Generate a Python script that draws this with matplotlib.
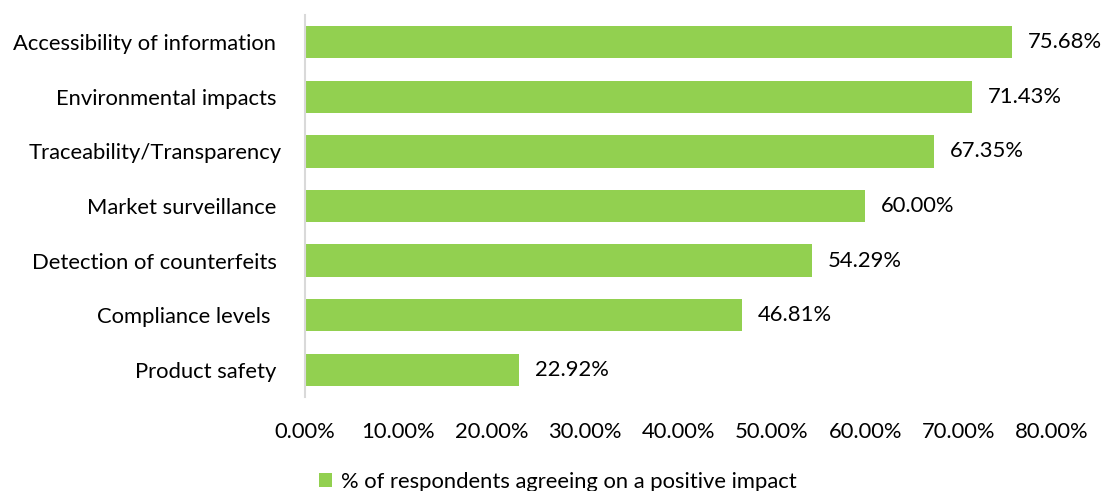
# Bar chart: positive impact by area
import numpy as np
import matplotlib.pyplot as plt
from matplotlib.ticker import FuncFormatter

plt.rcParams['font.family'] = ['Lato', 'DejaVu Sans']

# Data (top to bottom as in the chart)
categories = ['Accessibility of information ', 'Environmental impacts ',
              'Traceability/Transparency', 'Market surveillance ',
              'Detection of counterfeits ', 'Compliance levels  ',
              'Product safety ']
values = [75.68, 71.43, 67.35, 60.00, 54.29, 46.81, 22.92]
series_name = '% of respondents agreeing on a positive impact'
xticks = [0, 10, 20, 30, 40, 50, 60, 70, 80]

fs = 15.8

fig = plt.figure(figsize=(11.01, 4.91), dpi=100)
ax = fig.add_axes([305/1101, 1-397/491, (1052-305)/1101, 382/491])

y = np.arange(len(categories))[::-1]
bars = ax.barh(y, values, height=0.59, color='#92D050', label=series_name)

for yy, v in zip(y, values):
    ax.text(v + 1.7, yy, '%.2f%%' % v, va='center', ha='left', fontsize=fs, color='#000000')

ax.set_xlim(0, 80)
ax.set_ylim(-0.5, 6.5)
ax.set_xticks(xticks)
ax.xaxis.set_major_formatter(FuncFormatter(lambda v, p: '%.2f%%' % v))
ax.set_yticks(y)
ax.set_yticklabels(categories)
ax.tick_params(axis='y', length=0, pad=16.5, labelsize=fs)
ax.tick_params(axis='x', length=0, pad=18, labelsize=fs)

for s in ['top', 'right', 'bottom']:
    ax.spines[s].set_visible(False)
ax.spines['left'].set_color('#D9D9D9')
ax.spines['left'].set_linewidth(1.5)

fig.legend(loc='center', bbox_to_anchor=(558/1101, 1-482/491), frameon=False,
           fontsize=fs, handlelength=0.6, handleheight=0.6, handletextpad=0.4)

plt.savefig('out.png', dpi=100)
